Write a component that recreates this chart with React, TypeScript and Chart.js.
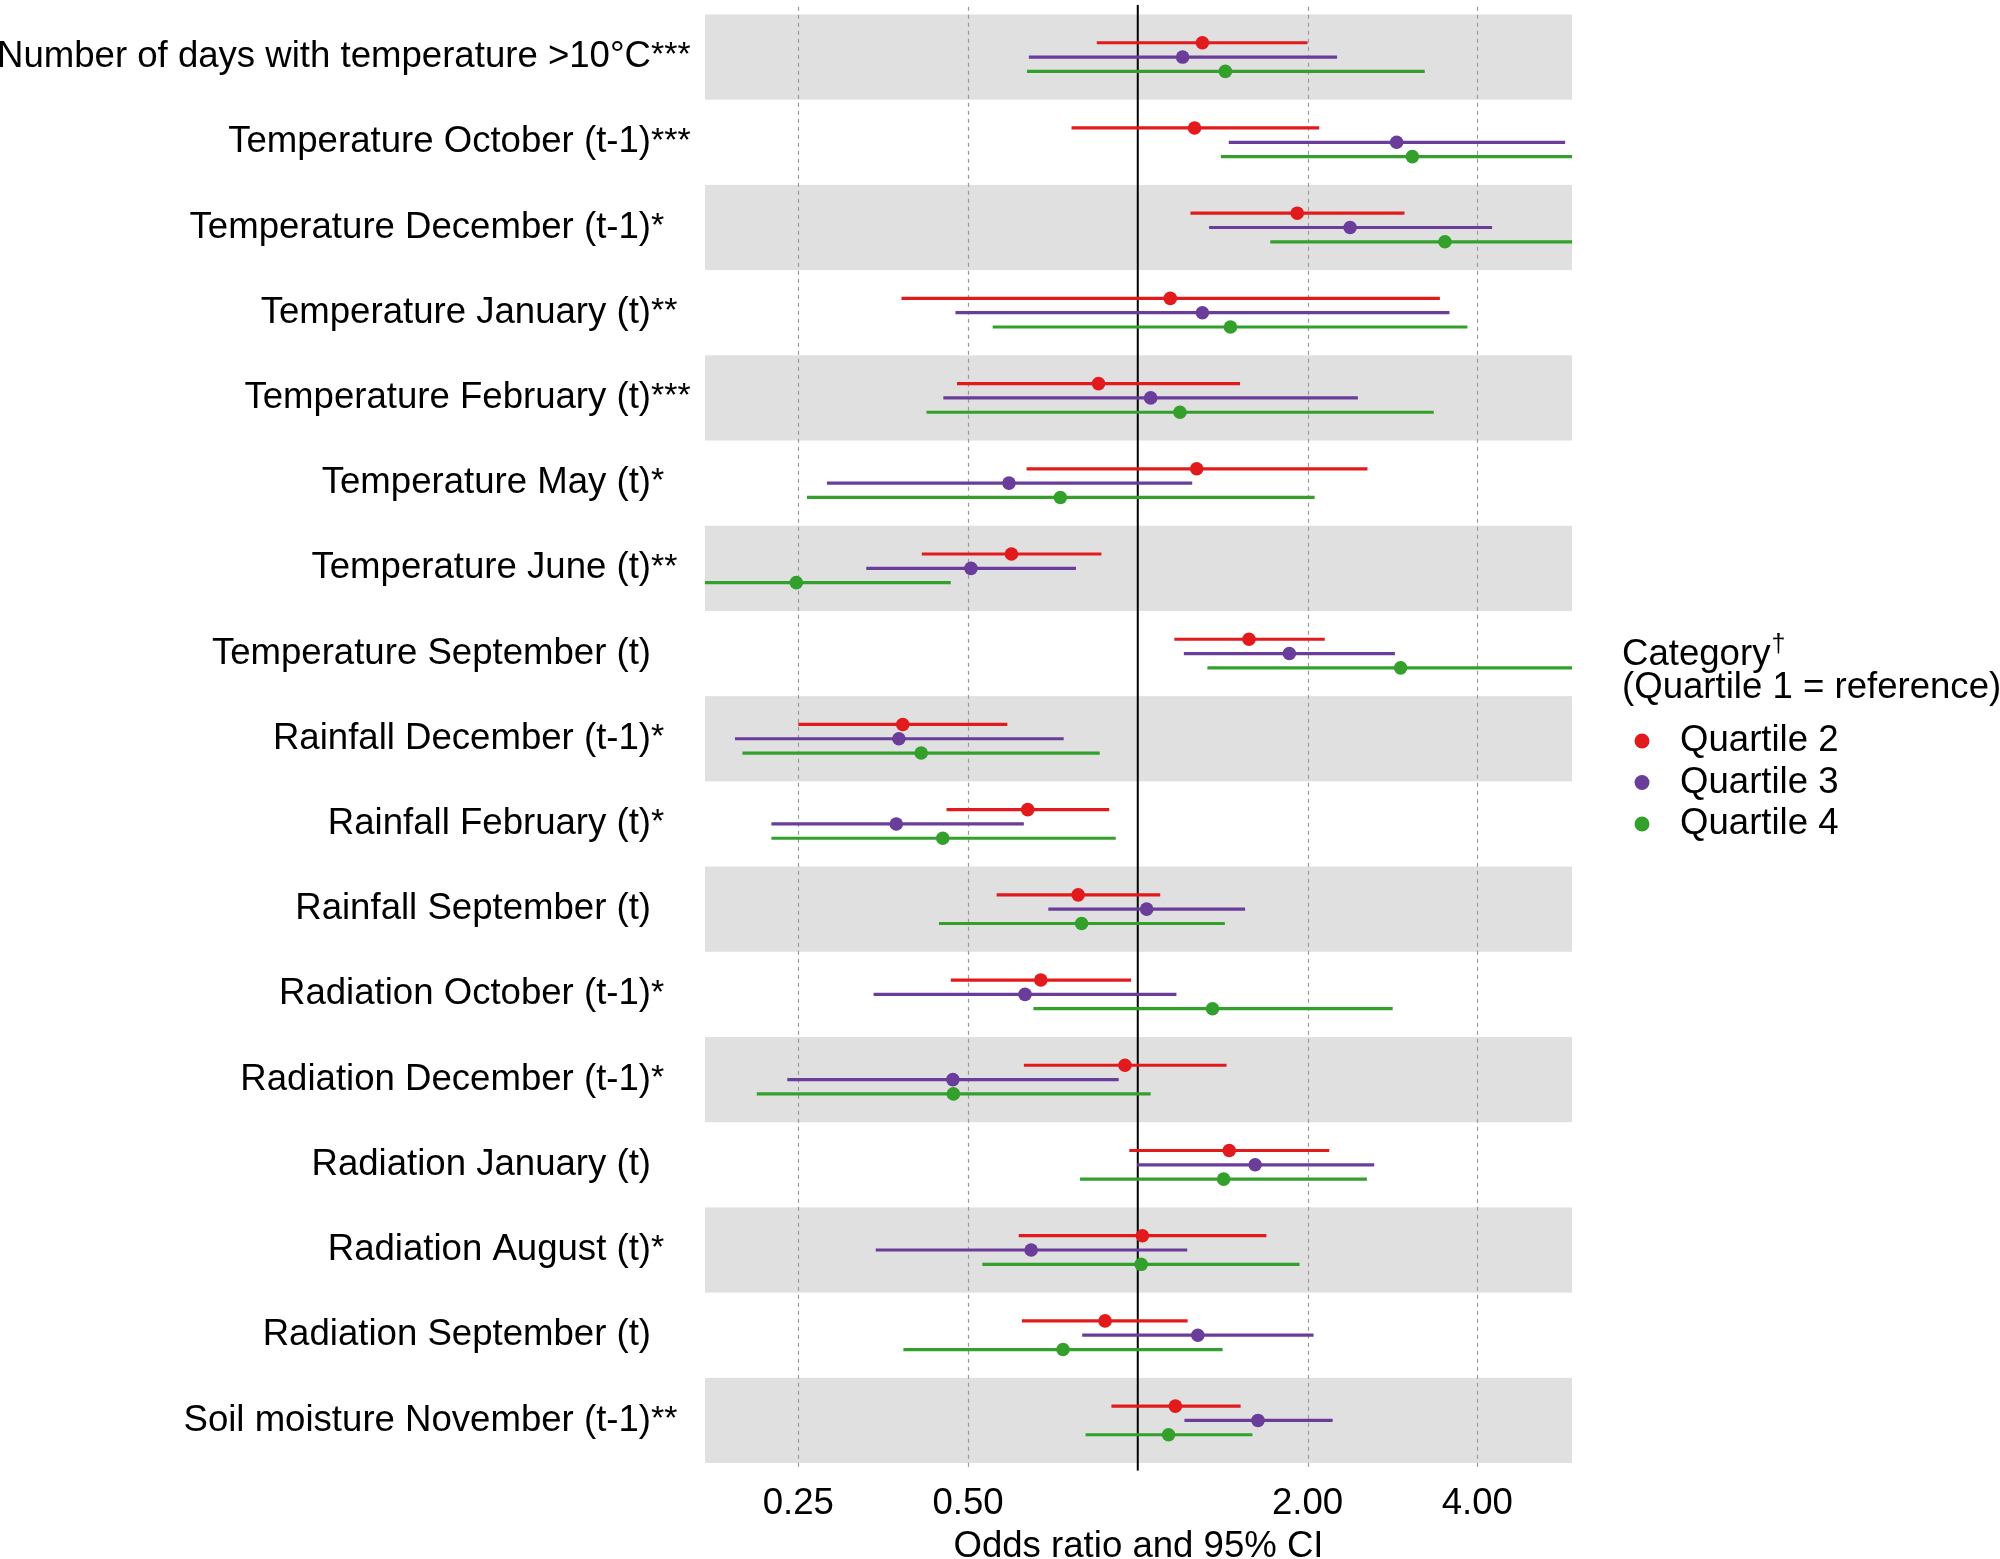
import React, { useEffect, useRef } from 'react';
import { Chart, registerables } from 'chart.js';

Chart.register(...registerables);

// ---------- data ----------
const categories = [
  'Number of days with temperature >10°C',
  'Temperature October (t-1)',
  'Temperature December (t-1)',
  'Temperature January (t)',
  'Temperature February (t)',
  'Temperature May (t)',
  'Temperature June (t)',
  'Temperature September (t)',
  'Rainfall December (t-1)',
  'Rainfall February (t)',
  'Rainfall September (t)',
  'Radiation October (t-1)',
  'Radiation December (t-1)',
  'Radiation January (t)',
  'Radiation August (t)',
  'Radiation September (t)',
  'Soil moisture November (t-1)',
];
const significance = ['***', '***', '*', '**', '***', '*', '**', '', '*', '*', '', '*', '*', '', '*', '', '**'];

const q2OR = [1.302, 1.261, 1.918, 1.142, 0.852, 1.272, 0.597, 1.575, 0.383, 0.638, 0.784, 0.673, 0.949, 1.453, 1.019, 0.875, 1.166];
const q2Lo = [0.846, 0.763, 1.240, 0.381, 0.478, 0.635, 0.414, 1.161, 0.250, 0.458, 0.562, 0.466, 0.628, 0.966, 0.615, 0.623, 0.898];
const q2Hi = [2.000, 2.098, 2.972, 3.434, 1.518, 2.555, 0.862, 2.146, 0.587, 0.890, 1.096, 0.973, 1.437, 2.186, 1.691, 1.226, 1.522];

const q3OR = [1.201, 2.878, 2.380, 1.302, 1.054, 0.591, 0.506, 1.857, 0.377, 0.373, 1.037, 0.631, 0.470, 1.615, 0.647, 1.278, 1.634];
const q3Lo = [0.641, 1.450, 1.338, 0.475, 0.452, 0.281, 0.330, 1.207, 0.193, 0.224, 0.694, 0.340, 0.239, 0.998, 0.343, 0.797, 1.210];
const q3Hi = [2.257, 5.727, 4.250, 3.571, 2.457, 1.249, 0.777, 2.858, 0.739, 0.628, 1.550, 1.171, 0.925, 2.626, 1.224, 2.050, 2.216];

const q4OR = [1.430, 3.069, 3.506, 1.460, 1.188, 0.729, 0.248, 2.925, 0.413, 0.451, 0.795, 1.357, 0.471, 1.420, 1.014, 0.737, 1.134];
const q4Lo = [0.636, 1.404, 1.718, 0.553, 0.422, 0.259, 0.131, 1.329, 0.199, 0.224, 0.444, 0.653, 0.211, 0.790, 0.530, 0.384, 0.808];
const q4Hi = [3.228, 6.700, 7.150, 3.843, 3.349, 2.059, 0.466, 6.440, 0.856, 0.914, 1.427, 2.832, 1.054, 2.549, 1.936, 1.414, 1.597];

const seriesNames = ['Quartile 2', 'Quartile 3', 'Quartile 4'];
const seriesColors = ['#E31A1C', '#6A3D9A', '#33A02C'];
const seriesOffsets = [-0.168, 0, 0.168];

const xTickValues = [0.25, 0.5, 1, 2, 4];
const xTickLabels = ['0.25', '0.50', '', '2.00', '4.00'];

const legendTitle = 'Category';
const legendTitleMark = '†';
const legendSubtitle = '(Quartile 1 = reference)';
const xTitle = 'Odds ratio and 95% CI';

const FONT = "'Liberation Sans', Arial, sans-serif";
const FS = 36.6;

// ---------- plugins ----------
const bandsPlugin = {
  id: 'bands',
  beforeDraw(chart: any) {
    const { ctx, chartArea, scales } = chart;
    const y = scales.y;
    const x = scales.x;
    ctx.save();
    ctx.fillStyle = '#E0E0E0';
    categories.forEach((_, i) => {
      if (i % 2 !== 0) return;
      const a = y.getPixelForValue(i - 0.5);
      const b = y.getPixelForValue(i + 0.5);
      ctx.fillRect(chartArea.left, Math.min(a, b), chartArea.right - chartArea.left, Math.abs(b - a));
    });
    // dashed vertical grid lines
    ctx.strokeStyle = '#9A9A9A';
    ctx.lineWidth = 1.2;
    ctx.setLineDash([4, 4]);
    x.ticks.forEach((t: any) => {
      if (t.value === 1) return;
      const px = Math.round(x.getPixelForValue(t.value)) + 0.5;
      ctx.beginPath();
      ctx.moveTo(px, chartArea.top);
      ctx.lineTo(px, chartArea.bottom);
      ctx.stroke();
    });
    ctx.restore();
  },
};

const errorBarPlugin = {
  id: 'errorBars',
  beforeDatasetsDraw(chart: any) {
    const { ctx, chartArea, scales } = chart;
    const x = scales.x;
    const y = scales.y;
    ctx.save();
    ctx.beginPath();
    ctx.rect(chartArea.left, chartArea.top - 2, chartArea.right - chartArea.left, chartArea.bottom - chartArea.top + 2);
    ctx.clip();
    // reference line at OR = 1
    const x1 = x.getPixelForValue(1);
    ctx.strokeStyle = '#000000';
    ctx.lineWidth = 2;
    ctx.beginPath();
    ctx.moveTo(x1, chartArea.top - 2);
    ctx.lineTo(x1, chartArea.bottom);
    ctx.stroke();
    chart.data.datasets.forEach((ds: any) => {
      ctx.strokeStyle = ds.backgroundColor;
      ctx.lineWidth = 3.2;
      ctx.lineCap = 'butt';
      ds.data.forEach((p: any) => {
        const py = y.getPixelForValue(p.y);
        ctx.beginPath();
        ctx.moveTo(x.getPixelForValue(p.lo), py);
        ctx.lineTo(x.getPixelForValue(p.hi), py);
        ctx.stroke();
      });
    });
    ctx.restore();
  },
};

const annotationsPlugin = {
  id: 'annotations',
  afterDraw(chart: any) {
    const { ctx, scales } = chart;
    const y = scales.y;
    ctx.save();
    ctx.fillStyle = '#000000';
    // significance stars after the y labels
    ctx.font = `34px ${FONT}`;
    ctx.textAlign = 'left';
    ctx.textBaseline = 'middle';
    significance.forEach((s, i) => {
      if (!s) return;
      ctx.fillText(s, 651, y.getPixelForValue(i) - 1);
    });
    // legend
    ctx.textBaseline = 'alphabetic';
    ctx.font = `${FS}px ${FONT}`;
    ctx.fillText(legendTitle, 1622, 665);
    const w = ctx.measureText(legendTitle).width;
    ctx.font = `25px ${FONT}`;
    ctx.fillText(legendTitleMark, 1622 + w + 1, 652);
    ctx.font = `${FS}px ${FONT}`;
    ctx.fillText(legendSubtitle, 1622, 698);
    const itemY = [741, 782.5, 824];
    seriesNames.forEach((name, k) => {
      ctx.fillStyle = seriesColors[k];
      ctx.beginPath();
      ctx.arc(1642, itemY[k], 7.5, 0, Math.PI * 2);
      ctx.fill();
      ctx.fillStyle = '#000000';
      ctx.textBaseline = 'middle';
      ctx.fillText(name, 1680, itemY[k]);
    });
    ctx.restore();
  },
};

// ---------- component ----------
export default function App() {
  const canvasRef = useRef<HTMLCanvasElement | null>(null);

  useEffect(() => {
    document.body.style.margin = '0';
    document.body.style.overflow = 'hidden';
    const canvas = canvasRef.current;
    if (!canvas) return;

    const ors = [q2OR, q3OR, q4OR];
    const los = [q2Lo, q3Lo, q4Lo];
    const his = [q2Hi, q3Hi, q4Hi];

    const datasets = seriesNames.map((name, k) => ({
      label: name,
      data: categories.map((_, i) => ({
        x: ors[k][i],
        y: i + seriesOffsets[k],
        lo: los[k][i],
        hi: his[k][i],
      })),
      backgroundColor: seriesColors[k],
      borderColor: seriesColors[k],
      borderWidth: 0,
      pointRadius: 6.8,
      pointHoverRadius: 6.8,
    }));

    const chart = new Chart(canvas, {
      type: 'scatter',
      data: { datasets },
      options: {
        animation: false,
        responsive: false,
        devicePixelRatio: 1,
        events: [],
        layout: { padding: { top: 2.5, right: 428, left: 0, bottom: 0 } },
        plugins: {
          legend: { display: false },
          tooltip: { enabled: false },
        },
        scales: {
          x: {
            type: 'logarithmic',
            position: 'bottom',
            min: 0.1708,
            max: 5.89,
            bounds: 'data',
            afterBuildTicks: (scale: any) => {
              scale.ticks = xTickValues.map((v) => ({ value: v }));
            },
            afterFit: (scale: any) => {
              scale.height = 88.3;
              scale.paddingLeft = 0;
              scale.paddingRight = 0;
            },
            border: { display: false },
            grid: { display: false, drawTicks: false },
            ticks: {
              autoSkip: false,
              maxRotation: 0,
              padding: 11,
              color: '#000000',
              font: { family: FONT, size: FS },
              callback: (_v: any, index: number) => xTickLabels[index],
            },
            title: {
              display: true,
              text: xTitle,
              color: '#000000',
              font: { family: FONT, size: FS, lineHeight: 0.6 },
              padding: { top: 0, bottom: 1 },
            },
          },
          y: {
            type: 'linear',
            reverse: true,
            min: -0.59,
            max: 16.59,
            afterBuildTicks: (scale: any) => {
              scale.ticks = categories.map((_, i) => ({ value: i }));
            },
            afterFit: (scale: any) => {
              scale.width = 705;
              scale.paddingTop = 0;
              scale.paddingBottom = 0;
            },
            border: { display: false },
            grid: { display: false, drawTicks: false },
            ticks: {
              autoSkip: false,
              padding: 54,
              color: '#000000',
              font: { family: FONT, size: FS },
              callback: (_v: any, index: number) => categories[index],
            },
          },
        },
      },
      plugins: [bandsPlugin, errorBarPlugin, annotationsPlugin],
    } as any);

    return () => {
      chart.destroy();
    };
  }, []);

  return (
    <div style={{ position: 'fixed', left: 0, top: 0, width: 2000, height: 1559, background: '#ffffff' }}>
      <canvas ref={canvasRef} width={2000} height={1559} style={{ display: 'block' }} />
    </div>
  );
}
